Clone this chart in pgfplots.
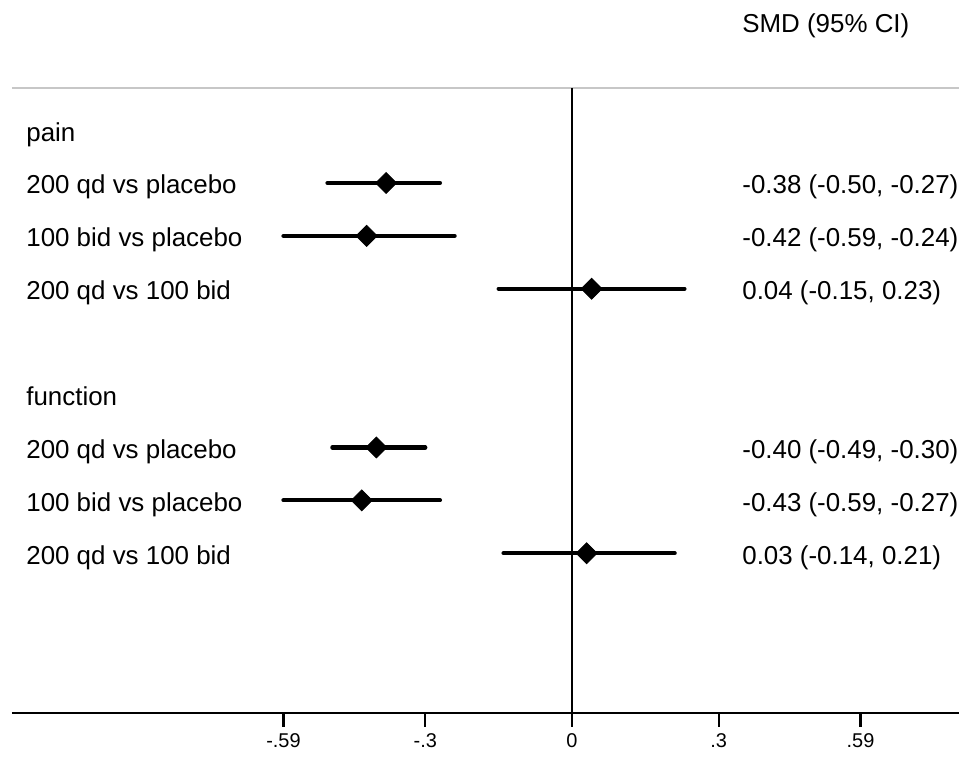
\documentclass[border=0pt]{standalone}
\usepackage{fontspec}
\setmainfont{Liberation Sans}
\usepackage{pgfplots}
\pgfplotsset{compat=1.18}
\usepackage{pgfplotstable}

% row positions (negative = downwards), estimate, lower and upper CI
\pgfplotstableread{
row est lo hi
-1 -0.38 -0.50 -0.27
-2 -0.42 -0.59 -0.24
-3 0.04 -0.15 0.23
-6 -0.40 -0.49 -0.30
-7 -0.43 -0.59 -0.27
-8 0.03 -0.14 0.21
}\smd

\tikzset{lbl/.style={anchor=base west, yshift=-5.5bp, font=\fontsize{13}{15}\selectfont, inner sep=0pt}}

\begin{document}
\begin{tikzpicture}
\begin{axis}[
 scale only axis, width=473.5bp, height=312.5bp,
 xmin=-1.1452, xmax=0.7914, ymin=-11.02, ymax=0.796,
 axis x line*=bottom, hide y axis,
 xtick={-0.59,-0.3,0,0.3,0.59}, xticklabels={-.59,-.3,0,.3,.59},
 tick align=outside, major tick length=6.5bp,
 major tick style={draw=black, line width=1bp},
 x axis line style={line width=1.1bp, -},
 xticklabel style={font=\fontsize{10}{12}\selectfont, yshift=-0.5bp},
 clip=false,
]
\coordinate (bbA) at (axis cs:-1.1697,2.459);
\coordinate (bbB) at (axis cs:0.7914,-11.86);
\draw[line width=1bp, black!22] (axis cs:-1.1452,0.796) -- (axis cs:0.7914,0.796);
\draw[line width=1bp] (axis cs:0,0.796) -- (axis cs:0,-11.02);
\pgfplotsinvokeforeach{-0.59,-0.3,0,0.3,0.59}{
  \draw[line width=1.2bp, black] (axis cs:#1,-11.02) -- (axis cs:#1,-11.29);
}

\addplot[black, only marks, mark=square*, mark size=3.7bp, mark options={rotate=45, solid, fill=black},
  error bars/.cd, x dir=both, x explicit, error mark=none,
  error bar style={line width=2.1bp, black, line cap=round}]
  table[x=est, y=row, x error plus expr=\thisrow{hi}-\thisrow{est}, x error minus expr=\thisrow{est}-\thisrow{lo}] {\smd};

\node[anchor=base west, inner sep=0pt, font=\fontsize{13}{15}\selectfont] at (axis cs:0.3476,1.836) {SMD (95\% CI)};

\node[lbl] at (axis cs:-1.1166,0) {pain};
\node[lbl] at (axis cs:-1.1166,-1) {200 qd vs placebo};
\node[lbl] at (axis cs:-1.1166,-2) {100 bid vs placebo};
\node[lbl] at (axis cs:-1.1166,-3) {200 qd vs 100 bid};
\node[lbl] at (axis cs:-1.1166,-5) {function};
\node[lbl] at (axis cs:-1.1166,-6) {200 qd vs placebo};
\node[lbl] at (axis cs:-1.1166,-7) {100 bid vs placebo};
\node[lbl] at (axis cs:-1.1166,-8) {200 qd vs 100 bid};

\node[lbl] at (axis cs:0.3476,-1) {-0.38 (-0.50, -0.27)};
\node[lbl] at (axis cs:0.3476,-2) {-0.42 (-0.59, -0.24)};
\node[lbl] at (axis cs:0.3476,-3) {0.04 (-0.15, 0.23)};
\node[lbl] at (axis cs:0.3476,-6) {-0.40 (-0.49, -0.30)};
\node[lbl] at (axis cs:0.3476,-7) {-0.43 (-0.59, -0.27)};
\node[lbl] at (axis cs:0.3476,-8) {0.03 (-0.14, 0.21)};
\end{axis}
\pgfresetboundingbox
\useasboundingbox (bbA) rectangle (bbB);
\end{tikzpicture}
\end{document}
